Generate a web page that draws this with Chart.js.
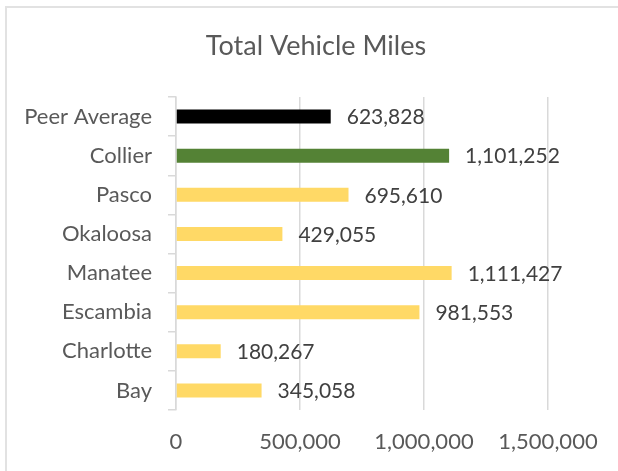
<!DOCTYPE html>
<html>
<head>
<meta charset="utf-8">
<script src="https://cdn.jsdelivr.net/npm/chart.js@4.4.0/dist/chart.umd.min.js"></script>
<style>
    body { margin: 0; background: #fff; overflow: hidden; }
    #wrap { position: relative; width: 618px; height: 471px; }
    #frame { position: absolute; left: 5px; top: 6px; width: 700px; height: 600px; border: 2px solid #e2e2e2; }
    canvas { position: absolute; left: 0; top: 0; }
</style>
</head>
<body>
<div id="wrap">
    <div id="frame"></div>
    <canvas id="chart" width="618" height="471"></canvas>
</div>
<script>
const categories = ['Peer Average', 'Collier', 'Pasco', 'Okaloosa', 'Manatee', 'Escambia', 'Charlotte', 'Bay']
const miles = [623828, 1101252, 695610, 429055, 1111427, 981553, 180267, 345058]
const barColors = ['#000000', '#548235', '#FFD966', '#FFD966', '#FFD966', '#FFD966', '#FFD966', '#FFD966']
const xTicks = [0, 500000, 1000000, 1500000]
const chartTitle = 'Total Vehicle Miles'

const fontFamily = 'Lato, "Open Sans", sans-serif'

// draws the title over the whole frame and the value next to each bar
const valueLabels = {
    id: 'valueLabels',
    afterDatasetsDraw(chart) {
        let ctx = chart.ctx
        let meta = chart.getDatasetMeta(0)
        ctx.save()
        ctx.font = `27px ${fontFamily}`
        ctx.fillStyle = '#595959'
        ctx.textAlign = 'center'
        ctx.textBaseline = 'middle'
        ctx.fillText(chartTitle, 316, 46)

        ctx.font = `21px ${fontFamily}`
        ctx.fillStyle = '#404040'
        ctx.textAlign = 'left'
        meta.data.forEach((bar, index) => {
            let value = chart.data.datasets[0].data[index]
            ctx.fillText(value.toLocaleString('en-US'), bar.x + 16, bar.y + 1)
        })
        ctx.restore()
    }
}

var ctx = document.getElementById('chart')
var myChart = new Chart(ctx, {
    type: 'bar',
    data: {
        labels: categories,
        datasets: [{
            label: chartTitle,
            data: miles,
            backgroundColor: barColors,
            borderWidth: 0,
            barPercentage: 0.36,
            categoryPercentage: 1.0
        }]
    },
    options: {
        indexAxis: 'y',
        responsive: false,
        animation: false,
        layout: {
            padding: { left: 0, right: 70, top: 97, bottom: 0 }
        },
        scales: {
            x: {
                min: 0,
                max: 1500000,
                afterBuildTicks: (scale) => {
                    scale.ticks = xTicks.map(v => ({ value: v }))
                },
                afterFit: (scale) => { scale.height = 61 },
                grid: { color: '#d9d9d9', lineWidth: 1.5, drawTicks: false },
                border: { display: false },
                ticks: {
                    padding: 19,
                    color: '#595959',
                    font: { family: fontFamily, size: 22 },
                    callback: (value) => value.toLocaleString('en-US')
                }
            },
            y: {
                afterFit: (scale) => { scale.width = 176 },
                grid: { drawOnChartArea: false, color: '#d9d9d9', tickLength: 8, lineWidth: 1.5 },
                border: { display: true, color: '#d9d9d9', width: 1.5 },
                ticks: {
                    padding: 16,
                    color: '#595959',
                    font: { family: fontFamily, size: 22 }
                }
            }
        },
        plugins: {
            legend: { display: false },
            tooltip: { enabled: false },
            title: { display: false }
        }
    },
    plugins: [valueLabels]
})
</script>
</body>
</html>
